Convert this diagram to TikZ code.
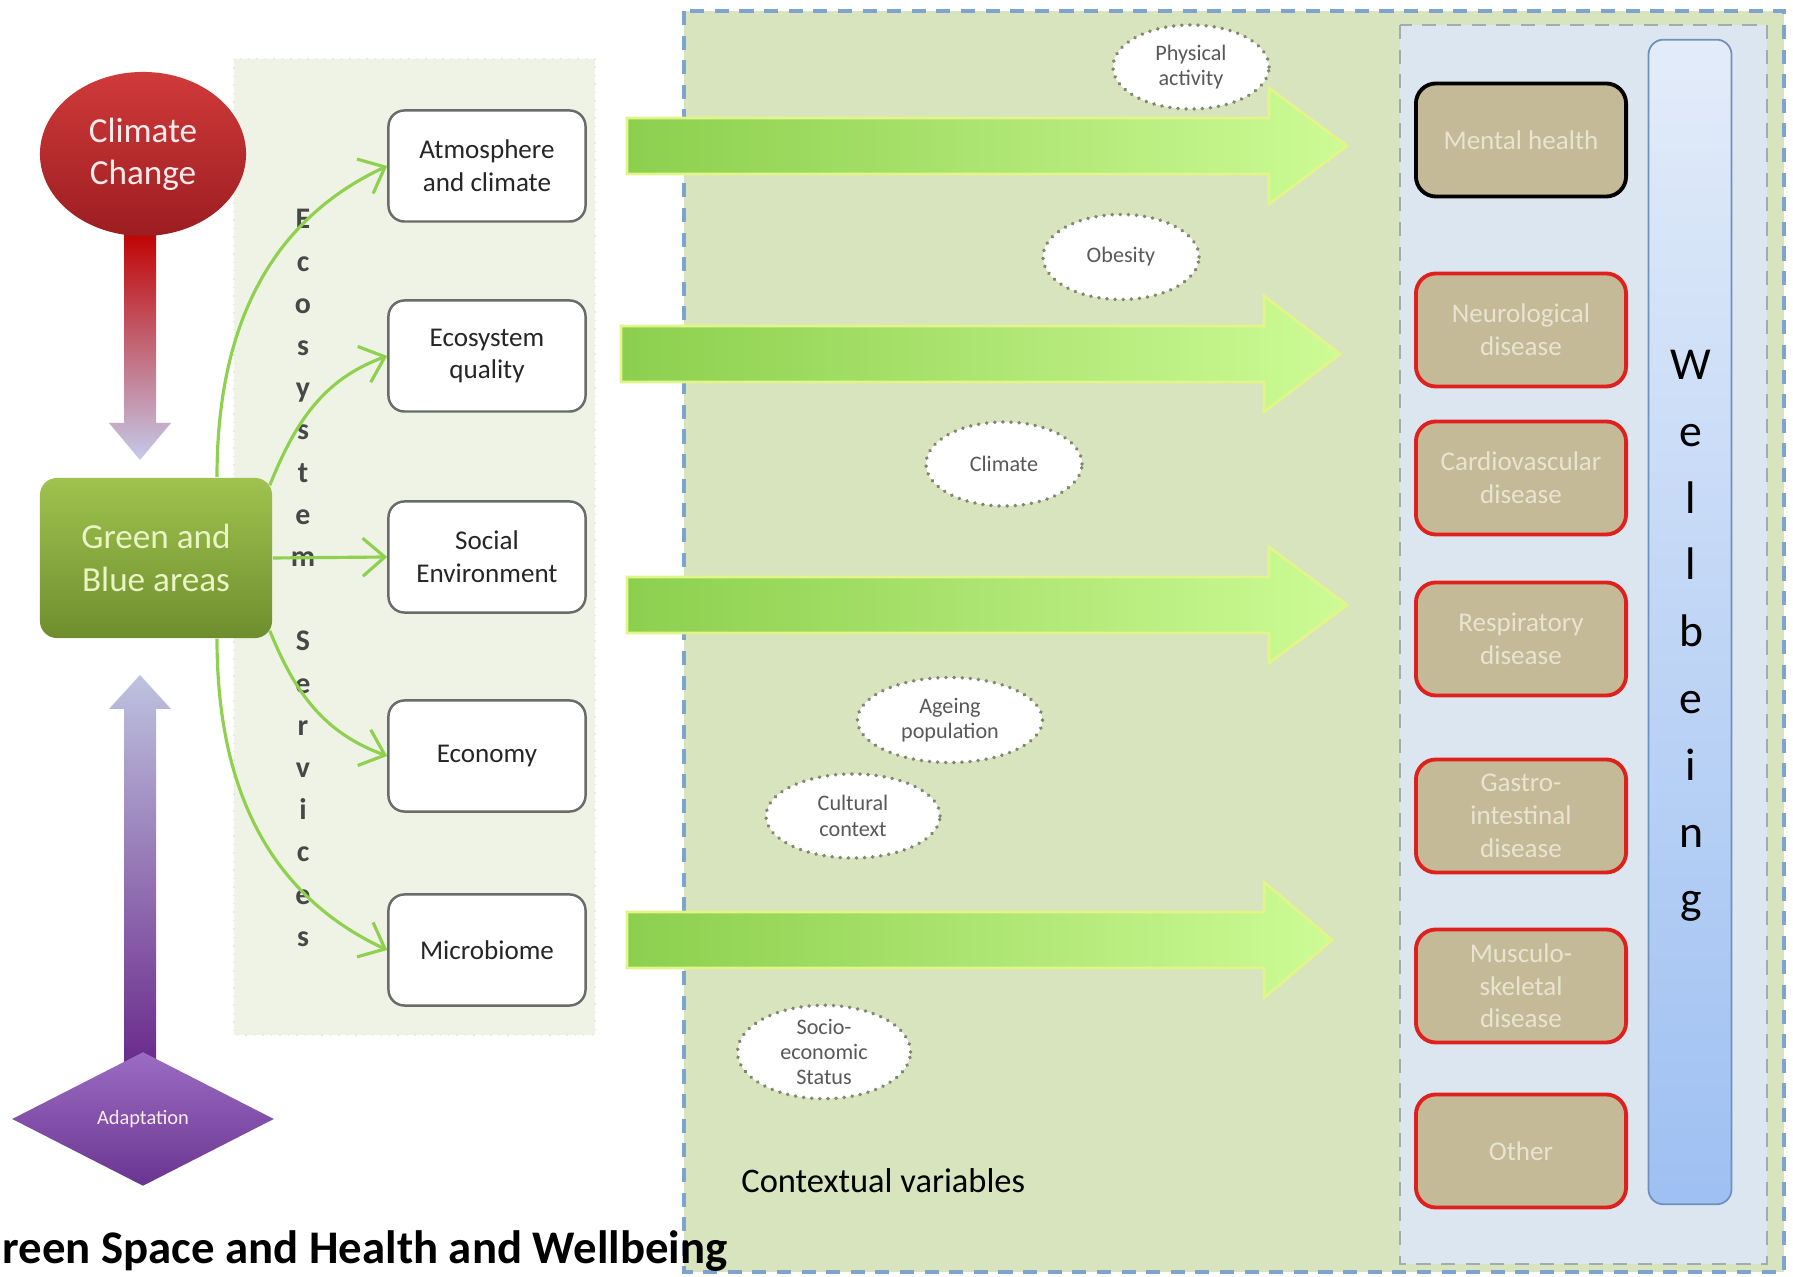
\documentclass[tikz,border=0pt]{standalone}
\usepackage{fontspec}
\setmainfont{Carlito}
\usetikzlibrary{shapes.geometric, arrows.meta, calc}

\definecolor{ctxgreen}{HTML}{D7E4BD}
\definecolor{hlthblue}{HTML}{DCE6F1}
\definecolor{panelgreen}{HTML}{EEF3E5}
\definecolor{dashblue}{HTML}{7EA3CF}
\definecolor{dashgray}{HTML}{A3AAB2}
\definecolor{boxgray}{HTML}{6B6B6B}
\definecolor{distan}{HTML}{C4BA97}
\definecolor{distext}{HTML}{E9E4D2}
\definecolor{disred}{HTML}{E0201C}
\definecolor{linkgreen}{HTML}{8FD14F}
\definecolor{arrgreen}{HTML}{8CCF4D}
\definecolor{arrpale}{HTML}{CDFB96}
\definecolor{arredge}{HTML}{E2F58A}
\definecolor{dotgray}{HTML}{85856F}
\definecolor{ccred}{HTML}{D03A3A}
\definecolor{ccdark}{HTML}{9C1D21}
\definecolor{ccarrow}{HTML}{C00000}
\definecolor{lavender}{HTML}{C5CAEA}
\definecolor{gbtop}{HTML}{A0C24E}
\definecolor{gbbottom}{HTML}{6E8E2E}
\definecolor{gbtext}{HTML}{EAF4C4}
\definecolor{purpletop}{HTML}{9B6CC4}
\definecolor{purplebottom}{HTML}{6A3590}
\definecolor{purplearrow}{HTML}{6B2B8C}
\definecolor{wbtop}{HTML}{E3ECF9}
\definecolor{wbbottom}{HTML}{9EC0F2}
\definecolor{wbedge}{HTML}{6F8FBF}

\begin{document}
\begin{tikzpicture}[
    x=0.01cm, y=0.01cm,
    >={Straight Barb[length=2.2mm, width=3.8mm]},
    svcbox/.style={rectangle, draw=boxgray, line width=0.7pt, rounded corners=0.16cm, fill=white,
        minimum width=1.97cm, minimum height=1.11cm, align=center,
        font=\fontsize{7.7}{9.3}\selectfont, text=black!85},
    disbox/.style={rectangle, draw=disred, line width=1.1pt, rounded corners=0.2cm, fill=distan,
        minimum width=2.1cm, minimum height=1.13cm, align=center,
        font=\fontsize{7.7}{9.3}\selectfont, text=distext},
    ctxvar/.style={ellipse, draw=dotgray, line width=1.1pt, dash pattern=on 0.01pt off 2.3pt,
        line cap=round, fill=white, inner sep=0pt, align=center,
        font=\fontsize{6.3}{7.2}\selectfont, text=black!65},
    svcarrow/.style={->, draw=linkgreen, line width=0.9pt},
    bigarrow/.style={left color=arrgreen, right color=arrpale, draw=arredge, line width=0.8pt}
    ]

    \useasboundingbox (0,0) rectangle (1793,-1277);

    % Backgrounds
    \path[fill=panelgreen, draw=panelgreen!90!black!60!white, dotted] (234,-59) rectangle (595,-1035);
    \path[fill=ctxgreen, draw=dashblue, line width=0.9pt, dash pattern=on 4pt off 3pt] (684,-11) rectangle (1784,-1272);
    \path[fill=hlthblue, draw=dashgray, line width=0.8pt, dash pattern=on 4pt off 3pt] (1400,-25) rectangle (1767,-1264);

    % Climate change and adaptation arrows
    \path[top color=ccarrow, bottom color=lavender]
        (124,-230) -- (156,-230) -- (156,-423) -- (171,-423) -- (140,-460) -- (109,-423) -- (124,-423) -- cycle;
    \path[top color=lavender!90!gray, bottom color=purplearrow]
        (140,-675) -- (171,-709) -- (156,-709) -- (156,-1062) -- (124,-1062) -- (124,-709) -- (109,-709) -- cycle;

    % Main nodes
    \node (cc) [ellipse, top color=ccred, bottom color=ccdark, minimum width=2.06cm, minimum height=1.64cm,
        align=center, text=red!8, font=\fontsize{10}{12}\selectfont] at (143,-154) {Climate\\Change};
    \node (gba) [rectangle, rounded corners=0.17cm, top color=gbtop, bottom color=gbbottom,
        minimum width=2.32cm, minimum height=1.6cm, align=center, text=gbtext,
        font=\fontsize{10}{12}\selectfont] at (156,-558) {Green and\\Blue areas};
    \node (adapt) [diamond, top color=purpletop, bottom color=purplebottom, minimum width=2.62cm,
        minimum height=1.34cm, inner sep=0pt, text=white!92!purple,
        font=\fontsize{5.8}{7}\selectfont] at (143,-1119) {Adaptation};

    % Ecosystem services
    \node (ecolabel) [align=center, text=black!72, font=\fontsize{8.5}{12}\selectfont\bfseries] at (303,-578)
        {E\\c\\o\\s\\y\\s\\t\\e\\m\\[12pt]S\\e\\r\\v\\i\\c\\e\\s};
    \node (atmos) [svcbox] at (487,-166) {Atmosphere\\and climate};
    \node (ecoq) [svcbox] at (487,-356) {Ecosystem\\quality};
    \node (social) [svcbox] at (487,-557) {Social\\Environment};
    \node (econ) [svcbox] at (487,-756) {Economy};
    \node (micro) [svcbox] at (487,-950) {Microbiome};

    \draw[svcarrow] ($(gba.north)+(61,0)$) to[out=90, in=205] (atmos.west);
    \draw[svcarrow] ($(gba.north east)+(-3,-8)$) to[out=68, in=200] (ecoq.west);
    \draw[svcarrow] (gba.east) -- (social.west);
    \draw[svcarrow] ($(gba.south east)+(-3,8)$) to[out=-68, in=160] (econ.west);
    \draw[svcarrow] ($(gba.south)+(61,0)$) to[out=-90, in=155] (micro.west);

    % Big arrows towards health outcomes
    \foreach \yc/\xs/\xh/\xt in {146/627/1269/1347, 354/621/1264/1340, 605/627/1269/1347, 940/627/1264/1332}
        \path[bigarrow] ({\xs},{28-\yc}) -- ({\xh},{28-\yc}) -- ({\xh},{58-\yc}) -- ({\xt},{-\yc})
            -- ({\xh},{-58-\yc}) -- ({\xh},{-28-\yc}) -- ({\xs},{-28-\yc}) -- cycle;

    % Contextual variables
    \node (phys) [ctxvar, minimum width=1.56cm, minimum height=0.84cm] at (1191,-67) {Physical\\activity};
    \node (obes) [ctxvar, minimum width=1.56cm, minimum height=0.85cm] at (1121,-257) {Obesity};
    \node (clim) [ctxvar, minimum width=1.56cm, minimum height=0.84cm] at (1004,-464) {Climate};
    \node (ageing) [ctxvar, minimum width=1.85cm, minimum height=0.85cm] at (950,-720) {Ageing\\population};
    \node (cult) [ctxvar, minimum width=1.74cm, minimum height=0.84cm] at (853,-816) {Cultural\\context};
    \node (socio) [ctxvar, minimum width=1.73cm, minimum height=0.87cm] at (824,-1052) {Socio-\\economic\\Status};
    \node (ctxlabel) [anchor=west, font=\fontsize{9.8}{11}\selectfont] at (729,-1181) {Contextual variables};

    % Health outcomes
    \node (mental) [disbox, draw=black] at (1521,-140) {Mental health};
    \node (neuro) [disbox] at (1521,-330) {Neurological\\disease};
    \node (cardio) [disbox] at (1521,-478) {Cardiovascular\\disease};
    \node (resp) [disbox] at (1521,-639) {Respiratory\\disease};
    \node (gastro) [disbox] at (1521,-816) {Gastro-\\intestinal\\disease};
    \node (musc) [disbox] at (1521,-986) {Musculo-\\skeletal\\disease};
    \node (other) [disbox] at (1521,-1151) {Other};

    % Wellbeing bar
    \node (wb) [rectangle, rounded corners=0.15cm, top color=wbtop, bottom color=wbbottom, draw=wbedge,
        line width=0.5pt, minimum width=0.83cm, minimum height=11.64cm] at (1690,-622) {};
    \node (wbtext) [align=center, font=\fontsize{13}{19}\selectfont] at (1691,-636) {W\\e\\l\\l\\b\\e\\i\\n\\g};

    % Title
    \node (title) [anchor=base west, inner sep=0pt, font=\fontsize{13.3}{15}\selectfont\bfseries] at (2,-1264)
        {reen Space and Health and Wellbeing};
\end{tikzpicture}
\end{document}
